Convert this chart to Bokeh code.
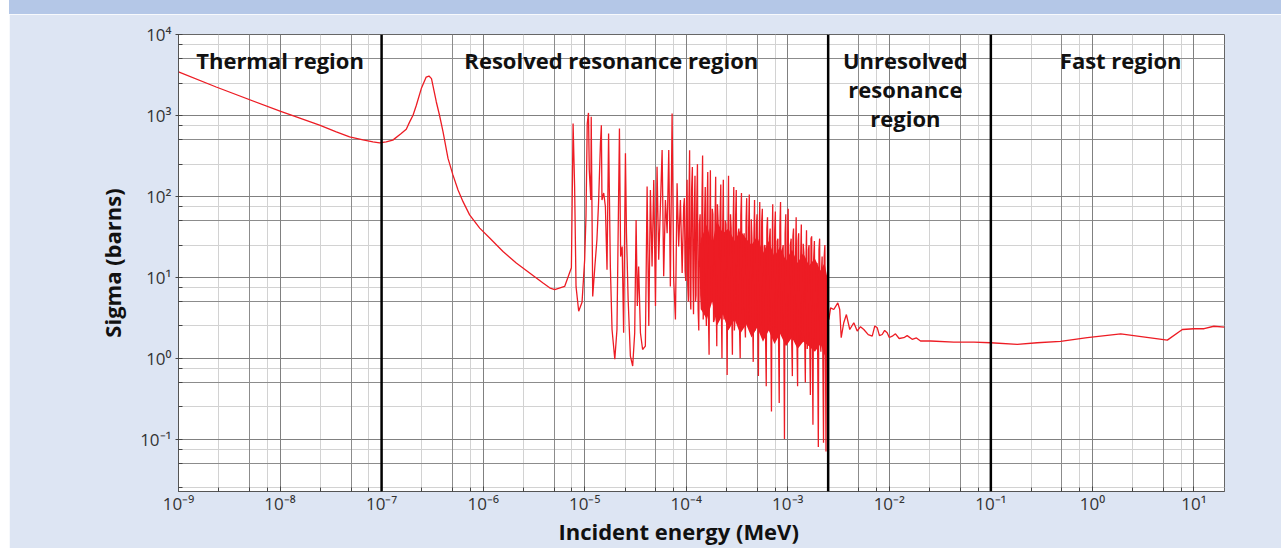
import numpy as np
from bokeh.plotting import figure
from bokeh.models import (FixedTicker, Grid, Span, Label, Range1d, Div, Spacer,
                          CustomJSTickFormatter)
from bokeh.layouts import row, column
from bokeh.embed import file_html
from bokeh.resources import INLINE

# ---------------- data (energy in MeV, sigma in barns) ----------------
thermal_E = [1.0e-9, 2.35e-9, 1.0e-8, 2.45e-8, 3.58e-8, 4.84e-8, 6.56e-8, 8.22e-8, 9.55e-8, 1.11e-7,
             1.29e-7, 1.56e-7, 1.75e-7, 1.89e-7, 2.04e-7, 2.2e-7, 2.46e-7, 2.75e-7, 2.93e-7, 3.1e-7,
             3.46e-7, 3.72e-7, 4.03e-7, 4.51e-7, 5.04e-7, 5.66e-7, 6.34e-7, 7.36e-7, 9.25e-7, 1.16e-6,
             1.57e-6, 2.12e-6, 2.87e-6, 3.89e-6, 4.52e-6, 5.06e-6, 6.35e-6, 7.4e-6]
thermal_sigma = [3450, 2245, 1127, 757, 626, 543, 499, 472, 458, 472,
                 495, 598, 676, 832, 1005, 1336, 2145, 2980, 3065, 2850,
                 1466, 1005, 626, 294, 184, 120, 86, 59, 40.5, 30.5,
                 20.8, 15.0, 11.3, 8.5, 7.4, 7.03, 7.7, 13.1]

res_E = [7.69e-6, 7.96e-6, 8.22e-6, 8.73e-6, 9.42e-6, 1.0e-5, 1.03e-5, 1.06e-5, 1.09e-5, 1.11e-5,
         1.15e-5, 1.16e-5, 1.20e-5, 1.26e-5, 1.32e-5, 1.37e-5, 1.43e-5, 1.46e-5, 1.48e-5, 1.54e-5,
         1.60e-5, 1.66e-5, 1.72e-5, 1.79e-5, 1.86e-5, 1.98e-5, 2.08e-5, 2.20e-5, 2.26e-5, 2.34e-5,
         2.42e-5, 2.52e-5, 2.58e-5, 2.68e-5, 2.82e-5, 2.97e-5, 3.11e-5, 3.21e-5, 3.30e-5, 3.40e-5,
         3.54e-5, 3.72e-5, 3.96e-5, 4.12e-5, 4.28e-5, 4.44e-5, 4.61e-5, 4.79e-5, 4.98e-5, 5.16e-5,
         5.36e-5, 5.57e-5, 5.79e-5, 6.00e-5, 6.24e-5, 6.49e-5, 6.73e-5, 6.98e-5, 7.26e-5, 7.53e-5,
         7.83e-5, 8.13e-5, 8.43e-5, 8.77e-5, 9.12e-5, 9.44e-5]
res_sigma = [794, 132, 7.7, 3.8, 4.9, 16.5, 56, 794, 1074, 211,
             90, 960, 5.8, 13.6, 29, 83, 455, 757, 90, 110,
             74.6, 12.4, 598, 13.6, 2.26, 0.97, 2.26, 690, 18, 24,
             2.06, 340, 35, 5.3, 1.06, 0.80, 2.06, 51, 4.4, 13.6,
             2.06, 1.28, 1.41, 132, 2.5, 120, 13.6, 159, 4.4, 232,
             16.5, 74.6, 373, 10.3, 90, 35, 373, 7.7, 1054, 9.3,
             3.0, 145, 24, 90, 11.3, 74.6]

# densely packed resonances, read as extremes (spikes) ...
dense_E = [9.6e-5, 9.9e-5, 1.02e-4, 1.05e-4, 1.08e-4, 1.11e-4, 1.15e-4, 1.18e-4, 1.22e-4, 1.25e-4,
           1.29e-4, 1.33e-4, 1.37e-4, 1.41e-4, 1.45e-4, 1.49e-4, 1.54e-4, 1.58e-4, 1.63e-4, 1.68e-4,
           1.73e-4, 1.78e-4, 1.83e-4, 1.89e-4, 1.95e-4, 2.0e-4, 2.06e-4, 2.12e-4, 2.19e-4, 2.25e-4,
           2.32e-4, 2.39e-4, 2.46e-4, 2.53e-4, 2.61e-4, 2.69e-4, 2.77e-4, 2.85e-4, 2.94e-4, 3.02e-4,
           3.11e-4, 3.21e-4, 3.3e-4, 3.4e-4, 3.5e-4, 3.61e-4, 3.72e-4, 3.83e-4, 3.94e-4, 4.06e-4,
           4.18e-4, 4.31e-4, 4.44e-4, 4.57e-4, 4.71e-4, 4.85e-4, 4.99e-4, 5.14e-4, 5.3e-4, 5.46e-4,
           5.62e-4, 5.79e-4, 5.96e-4, 6.14e-4, 6.32e-4, 6.51e-4, 6.71e-4, 6.91e-4, 7.11e-4, 7.33e-4,
           7.55e-4, 7.77e-4, 8.0e-4, 8.24e-4, 8.49e-4, 8.75e-4, 9.01e-4, 9.28e-4, 9.56e-4, 9.84e-4,
           1.01e-3, 1.04e-3, 1.08e-3, 1.11e-3, 1.14e-3, 1.18e-3, 1.21e-3, 1.25e-3, 1.28e-3, 1.32e-3,
           1.36e-3, 1.4e-3, 1.44e-3, 1.49e-3, 1.53e-3, 1.58e-3, 1.62e-3, 1.67e-3, 1.72e-3, 1.77e-3,
           1.83e-3, 1.88e-3, 1.94e-3, 2.0e-3, 2.06e-3, 2.12e-3, 2.18e-3, 2.25e-3, 2.32e-3, 2.38e-3,
           2.45e-3]
dense_sigma = [95, 9, 160, 5, 370, 4, 230, 3.5, 180, 6,
               250, 2.2, 60, 4, 320, 8, 130, 2.5, 200, 1.1,
               210, 5, 60, 3, 175, 1.4, 50, 6, 140, 1.0,
               160, 4, 45, 0.62, 180, 5, 40, 1.1, 130, 3,
               120, 3, 40, 1.0, 110, 4, 35, 1.8, 95, 2.5,
               105, 3, 30, 0.9, 90, 3.5, 60, 0.6, 85, 2.5,
               70, 2, 25, 0.45, 55, 3, 40, 0.22, 80, 2,
               65, 2.5, 30, 0.28, 85, 2, 25, 0.1, 60, 1.5,
               70, 2, 30, 0.6, 40, 2.5, 55, 0.45, 35, 1.5,
               45, 2, 20, 0.5, 38, 1.8, 25, 0.35, 32, 0.15,
               28, 1.5, 15, 0.08, 30, 1.2, 18, 0.09, 25, 0.07,
               5]

# ... the in-between points of the band ...
dense2_E = [9.75e-5, 1.005e-4, 1.035e-4, 1.065e-4, 1.095e-4, 1.13e-4, 1.165e-4, 1.2e-4, 1.235e-4, 1.27e-4,
            1.31e-4, 1.35e-4, 1.39e-4, 1.43e-4, 1.47e-4, 1.515e-4, 1.56e-4, 1.605e-4, 1.655e-4, 1.705e-4,
            1.755e-4, 1.805e-4, 1.86e-4, 1.92e-4, 1.975e-4, 2.03e-4, 2.09e-4, 2.155e-4, 2.22e-4, 2.285e-4,
            2.355e-4, 2.425e-4, 2.495e-4, 2.57e-4, 2.65e-4, 2.73e-4, 2.81e-4, 2.895e-4, 2.98e-4, 3.065e-4,
            3.16e-4, 3.255e-4, 3.35e-4, 3.45e-4, 3.555e-4, 3.665e-4, 3.775e-4, 3.885e-4, 4.0e-4, 4.12e-4,
            4.245e-4, 4.375e-4, 4.505e-4, 4.64e-4, 4.78e-4, 4.92e-4, 5.065e-4, 5.22e-4, 5.38e-4, 5.54e-4,
            5.705e-4, 5.875e-4, 6.05e-4, 6.23e-4, 6.415e-4, 6.61e-4, 6.81e-4, 7.01e-4, 7.22e-4, 7.44e-4,
            7.66e-4, 7.885e-4, 8.12e-4, 8.365e-4, 8.62e-4, 8.88e-4, 9.145e-4, 9.42e-4, 9.7e-4, 9.97e-4,
            1.025e-3, 1.06e-3, 1.095e-3, 1.125e-3, 1.16e-3, 1.195e-3, 1.23e-3, 1.265e-3, 1.3e-3, 1.34e-3,
            1.38e-3, 1.42e-3, 1.465e-3, 1.51e-3, 1.555e-3, 1.6e-3, 1.645e-3, 1.695e-3, 1.745e-3, 1.8e-3,
            1.855e-3, 1.91e-3, 1.97e-3, 2.03e-3, 2.09e-3, 2.15e-3, 2.215e-3, 2.285e-3, 2.35e-3, 2.415e-3]
dense2_sigma = [12, 70, 8, 90, 6, 120, 10, 60, 5, 80,
                4, 45, 6, 90, 3, 50, 5, 75, 3.5, 40,
                6, 70, 2.8, 45, 5, 80, 3, 55, 4, 38,
                3, 50, 4.5, 30, 2.5, 60, 3.5, 42, 2.2, 55,
                3.8, 35, 2.4, 58, 4.2, 28, 2.8, 48, 3.2, 40,
                2.5, 52, 3.6, 30, 2.2, 45, 4, 26, 2.8, 50,
                3.2, 24, 1.8, 40, 2.6, 30, 3.4, 20, 2, 38,
                2.4, 28, 1.6, 42, 3, 22, 2.2, 35, 1.7, 30,
                2.8, 25, 1.5, 32, 2.2, 20, 1.8, 28, 2.5, 18,
                1.6, 26, 2.2, 15, 1.3, 22, 1.9, 30, 1.4, 17,
                2, 14, 1.2, 22, 1.6, 12, 1.1, 18, 1.5, 10]

# ... and the envelope of the solid (unresolvable at this scale) core of the band
core_E = [1.4e-4, 1.6e-4, 1.8e-4, 2.0e-4, 2.3e-4, 2.6e-4, 3.0e-4, 3.4e-4, 3.9e-4, 4.4e-4,
          5.0e-4, 5.7e-4, 6.5e-4, 7.4e-4, 8.4e-4, 9.6e-4, 1.1e-3, 1.25e-3, 1.42e-3, 1.62e-3,
          1.85e-3, 2.1e-3, 2.3e-3, 2.45e-3]
core_top = [30, 45, 25, 50, 35, 40, 28, 38, 30, 25,
            32, 20, 28, 18, 24, 16, 22, 15, 20, 14,
            17, 12, 15, 10]
core_bottom = [4, 3, 5, 2.5, 3.5, 2.2, 3, 2, 2.6, 1.8,
               2.4, 1.6, 2.2, 1.5, 2, 1.4, 1.8, 1.3, 1.6, 1.4,
               1.2, 1.5, 1.1, 1.0]

fast_E = [2.54e-3, 2.64e-3, 2.84e-3, 3.11e-3, 3.25e-3, 3.36e-3, 3.56e-3, 3.78e-3, 4.08e-3, 4.47e-3,
          4.83e-3, 5.2e-3, 5.61e-3, 6.2e-3, 6.79e-3, 7.2e-3, 7.60e-3, 8.0e-3, 8.51e-3, 9.0e-3,
          9.53e-3, 1.0e-2, 1.07e-2, 1.15e-2, 1.25e-2, 1.39e-2, 1.5e-2, 1.68e-2, 1.85e-2, 2.03e-2,
          2.55e-2, 4.32e-2, 6.81e-2, 9.93e-2, 0.182, 0.286, 0.486, 0.891, 1.90, 5.47,
          7.69, 10.0, 12.6, 15.7, 20.0]
fast_sigma = [3.0, 4.19, 3.99, 4.82, 3.99, 1.79, 2.74, 3.46, 2.26, 2.74,
              2.16, 2.45, 2.26, 1.95, 1.87, 2.5, 2.38, 1.9, 1.96, 2.2,
              2.06, 1.8, 1.87, 2.0, 1.75, 1.79, 1.9, 1.71, 1.78, 1.63,
              1.63, 1.58, 1.58, 1.55, 1.48, 1.55, 1.61, 1.79, 2.0, 1.67,
              2.26, 2.31, 2.31, 2.48, 2.42]

region_bounds = [1e-7, 2.5e-3, 0.1]
x_decades = [1e-9, 1e-8, 1e-7, 1e-6, 1e-5, 1e-4, 1e-3, 1e-2, 1e-1, 1e0, 1e1]
y_decades = [1e-1, 1e0, 1e1, 1e2, 1e3, 1e4]

# ---------------- figure ----------------
RED = "#ed1c24"
FONT = "Open Sans"

p = figure(width=1272, height=534, x_axis_type="log", y_axis_type="log",
           x_range=Range1d(1e-9, 20), y_range=Range1d(0.0225, 1e4),
           output_backend="svg", toolbar_location=None,
           min_border_left=169, min_border_right=57, min_border_top=20, min_border_bottom=56,
           background_fill_color="white", border_fill_color="#dde5f3",
           outline_line_color="#666666", outline_line_width=1, margin=(0, 0, 0, 0))

p.xgrid.visible = False
p.ygrid.visible = False

def mult(decs, fs):
    return [d * f for d in decs for f in fs]

x_all_dec = [10.0 ** k for k in range(-9, 2)]
y_all_dec = [10.0 ** k for k in range(-2, 5)]
x_light = mult(x_all_dec, [2.5, 7.5])
x_five = mult(x_all_dec, [5])
y_light = mult(y_all_dec, [2.5, 7.5])
y_five = mult(y_all_dec, [5])

for dim, ticks, col in [(0, x_light, "#d2d2d2"), (1, y_light, "#d2d2d2"),
                        (0, x_five, "#8c8c8c"), (1, y_five, "#8c8c8c"),
                        (0, x_decades, "#808080"), (1, y_decades, "#808080")]:
    g = Grid(dimension=dim, ticker=FixedTicker(ticks=ticks), grid_line_color=col,
             grid_line_width=1)
    p.add_layout(g)

sup_fmt = CustomJSTickFormatter(code="""
const sup = {"-":"\u207b","0":"\u2070","1":"\u00b9","2":"\u00b2","3":"\u00b3","4":"\u2074",
             "5":"\u2075","6":"\u2076","7":"\u2077","8":"\u2078","9":"\u2079"};
const e = Math.round(Math.log10(tick));
return "10" + String(e).split("").map(c => sup[c]).join("");
""")

p.xaxis.ticker = FixedTicker(ticks=x_decades, minor_ticks=x_light + x_five)
p.yaxis.ticker = FixedTicker(ticks=y_decades, minor_ticks=y_light + y_five)
for ax in (p.xaxis[0], p.yaxis[0]):
    ax.formatter = sup_fmt
    ax.axis_line_color = "#555555"
    ax.major_tick_line_color = "#444444"
    ax.minor_tick_line_color = "#444444"
    ax.major_tick_in = 4
    ax.major_tick_out = 3
    ax.minor_tick_in = 4
    ax.minor_tick_out = 0
    ax.major_label_text_font = FONT
    ax.major_label_text_font_size = "17px"
    ax.major_label_text_color = "#333333"
    ax.axis_label_text_font = FONT
    ax.axis_label_text_font_size = "22px"
    ax.axis_label_text_font_style = "bold"
    ax.axis_label_text_color = "#111111"
p.xaxis.major_tick_out = 0
p.xaxis.major_tick_in = 5
p.xaxis.major_label_standoff = 0
p.yaxis.major_label_standoff = 4
p.yaxis.axis_label = "Sigma (barns)"
p.yaxis.axis_label_standoff = 10
# trailing no-break spaces shift the centred title a little to the left, as in the original
p.xaxis.axis_label = "Incident energy (MeV)" + "\u00a0" * 8
p.xaxis.axis_label_standoff = -2

# curve: one continuous series, ordered by energy
E_all = thermal_E + res_E + dense_E + dense2_E + fast_E
S_all = thermal_sigma + res_sigma + dense_sigma + dense2_sigma + fast_sigma
order = np.argsort(E_all, kind="stable")
E_sorted = [E_all[i] for i in order]
S_sorted = [S_all[i] for i in order]
p.varea(x=core_E, y1=core_bottom, y2=core_top, fill_color=RED, fill_alpha=1.0)
p.line(x=E_sorted, y=S_sorted, line_color=RED, line_width=1.3)

for b in region_bounds:
    p.add_layout(Span(location=b, dimension="height", line_color="black", line_width=2.5))

def lab(x, y, t, size="22px"):
    p.add_layout(Label(x=x, y=y, text=t, text_align="center", text_baseline="middle",
                       text_font=FONT, text_font_style="bold", text_font_size=size,
                       text_color="#111111"))

lab(1.0e-8, 4790, "Thermal region")
lab(1.83e-5, 4790, "Resolved resonance region")
lab(1.44e-2, 4790, "Unresolved")
lab(1.44e-2, 2100, "resonance")
lab(1.44e-2, 925, "region")
lab(1.9, 4790, "Fast region")

band = Div(text="", width=1272, height=14, margin=(0, 0, 0, 0),
           styles={"background-color": "#b4c7e7"})
layout = row(Spacer(width=9, height=548, margin=(0, 0, 0, 0)),
             column(band, p, spacing=0, margin=(0, 0, 0, 0)),
             spacing=0, margin=(0, 0, 0, 0))

open("out.html", "w").write(file_html(layout, INLINE))
